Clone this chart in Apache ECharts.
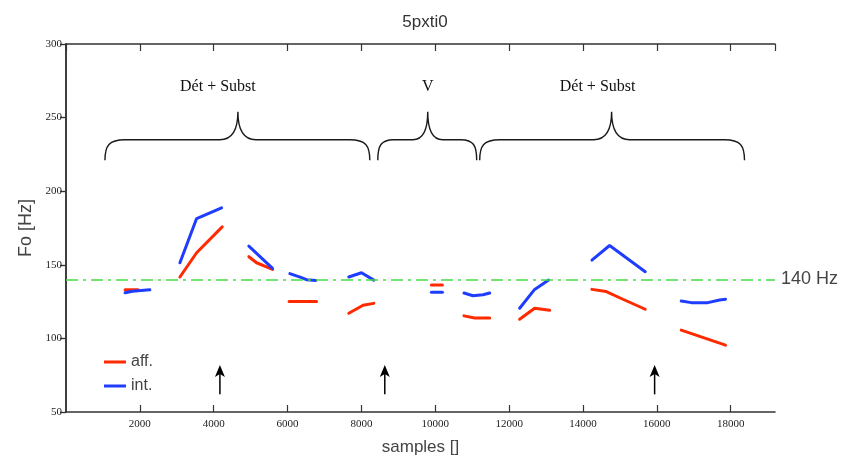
<!DOCTYPE html>
<html>
<head>
<meta charset="utf-8">
<script src="https://cdn.jsdelivr.net/npm/echarts@6/dist/echarts.min.js"></script>
<style>html,body{margin:0;padding:0;background:#fff}#c{width:843px;height:461px}</style>
</head>
<body>
<div id="c"></div>
<script>
// ---- data ----
const xTicks = [2000, 4000, 6000, 8000, 10000, 12000, 14000, 16000, 18000];
const yTicks = [50, 100, 150, 200, 250, 300];
const refHz = 140;
const refLabel = '140 Hz';

const affSegments = [
  [[1600,133],[1950,133]],
  [[3085,141.7],[3537,158.2],[4230,175.8]],
  [[4952,155.5],[5160,151.4],[5593,146.9]],
  [[6043,125],[6784,125]],
  [[7658,117.1],[8045,122.5],[8335,123.8]],
  [[9895,136.2],[10193,136.2]],
  [[10778,115.3],[11067,113.9],[11474,113.9]],
  [[12285,113],[12691,120.5],[13097,119.1]],
  [[14242,133.3],[14631,131.8],[15081,126.6],[15686,119.8]],
  [[16661,105.6],[17860,95.4]]
];
const intSegments = [
  [[1600,131],[1800,132],[2270,133]],
  [[3085,151.4],[3537,181.4],[4213,188.7]],
  [[4952,162.7],[5593,147.6]],
  [[6062,144],[6378,141.3],[6513,139.9],[6765,139.4]],
  [[7658,141.7],[8002,144.6],[8335,139.6]],
  [[9895,131.3],[10193,131.3]],
  [[10778,130.8],[11021,129],[11292,129.7],[11474,130.8]],
  [[12285,120.5],[12691,133.3],[13070,139.6]],
  [[14242,153.2],[14721,163.1],[15686,145.3]],
  [[16661,125.4],[16932,124.3],[17383,124.3],[17699,126.1],[17860,126.6]]
];

const braceStart = [1055, 8443, 11203];
const braceMid   = [4655, 9796, 14775];
const braceEnd   = [8227, 11122, 18374];
const braceLabels = ['Dét + Subst', 'V', 'Dét + Subst'];
const braceLabelX = [4113, 9796, 14396];
const braceBaseHz = 221, braceFlatHz = 235, braceTipHz = 254, braceLabelHz = 271;

const arrowX = [4168, 8633, 15940];
const arrowBaseHz = 62, arrowTipHz = 82;

// ---- chart ----
const RED = '#ff2a00', BLUE = '#1f3dff', GREEN = '#44dd44';
const SANS = "'Liberation Sans Narrow','Liberation Sans',Arial,sans-serif";
const SERIF = "'Liberation Serif','Times New Roman',serif";
const LINE_ICON = 'path://M0,0L22,0L22,3L0,3Z';

const series = [];
affSegments.forEach(seg => series.push({
  type: 'line', name: 'aff.', data: seg, symbol: 'none', showSymbol: false,
  lineStyle: {color: RED, width: 3, cap: 'round'}, itemStyle: {color: RED}, animation: false, z: 3
}));
intSegments.forEach(seg => series.push({
  type: 'line', name: 'int.', data: seg, symbol: 'none', showSymbol: false,
  lineStyle: {color: BLUE, width: 3, cap: 'round'}, itemStyle: {color: BLUE}, animation: false, z: 3
}));

// reference line
series.push({
  type: 'line', name: 'ref', data: [], symbol: 'none', animation: false,
  markLine: {
    silent: true, symbol: 'none', animation: false,
    lineStyle: {color: GREEN, width: 1.5, type: [12, 5, 3, 5]},
    label: {show: true, position: 'end', formatter: refLabel, distance: 6,
            fontFamily: SANS, fontSize: 18, color: '#444'},
    data: [{yAxis: refHz}]
  },
  z: 2
});

// braces
series.push({
  type: 'custom', name: 'braces', coordinateSystem: 'cartesian2d', clip: false, silent: true,
  animation: false,
  data: braceStart.map((s, i) => [s, braceMid[i], braceEnd[i], braceLabelX[i], i]),
  encode: {x: [0, 1, 2, 3]},
  renderItem: function (params, api) {
    const i = api.value(4);
    const x0 = api.coord([api.value(0), braceBaseHz]);
    const xm = api.coord([api.value(1), braceTipHz]);
    const x1 = api.coord([api.value(2), braceBaseHz]);
    const yf = api.coord([0, braceFlatHz])[1];
    const lp = api.coord([api.value(3), braceLabelHz]);
    const w = x1[0] - x0[0];
    const r = Math.min(20, w * 0.16);
    const r2 = Math.min(18, w * 0.15);
    const d = 'M' + x0[0] + ' ' + x0[1] +
      ' C' + x0[0] + ' ' + (yf + 6) + ' ' + (x0[0] + r * 0.2) + ' ' + yf + ' ' + (x0[0] + r) + ' ' + yf +
      ' L' + (xm[0] - r2) + ' ' + yf +
      ' Q' + xm[0] + ' ' + yf + ' ' + xm[0] + ' ' + xm[1] +
      ' Q' + xm[0] + ' ' + yf + ' ' + (xm[0] + r2) + ' ' + yf +
      ' L' + (x1[0] - r) + ' ' + yf +
      ' C' + (x1[0] - r * 0.2) + ' ' + yf + ' ' + x1[0] + ' ' + (yf + 6) + ' ' + x1[0] + ' ' + x1[1];
    return {
      type: 'group',
      children: [
        {type: 'path', shape: {pathData: d}, style: {fill: null, stroke: '#1a1a1a', lineWidth: 1.4}},
        {type: 'text', x: lp[0], y: lp[1],
         style: {text: braceLabels[i], font: '16px ' + SERIF, fill: '#111', align: 'center', verticalAlign: 'middle'}}
      ]
    };
  },
  z: 4
});

// arrows
series.push({
  type: 'custom', name: 'arrows', coordinateSystem: 'cartesian2d', clip: false, silent: true,
  animation: false,
  data: arrowX.map(x => [x]),
  encode: {x: 0},
  renderItem: function (params, api) {
    const b = api.coord([api.value(0), arrowBaseHz]);
    const t = api.coord([api.value(0), arrowTipHz]);
    const hl = 12, hw = 5;
    return {
      type: 'group',
      children: [
        {type: 'line', shape: {x1: b[0], y1: b[1], x2: t[0], y2: t[1] + 4}, style: {stroke: '#000', lineWidth: 1.5}},
        {type: 'polygon', shape: {points: [[t[0], t[1]], [t[0] - hw, t[1] + hl], [t[0], t[1] + hl - 3], [t[0] + hw, t[1] + hl]]},
         style: {fill: '#000'}}
      ]
    };
  },
  z: 4
});

const axisLine = {show: true, lineStyle: {color: '#333', width: 1.5}};
const tickLabelStyle = {fontFamily: SERIF, fontSize: 11, color: '#222'};

const option = {
  backgroundColor: '#fff',
  animation: false,
  title: {text: '5pxti0', left: 420, textAlign: 'center', top: 9,
          textStyle: {fontFamily: SANS, fontSize: 17, fontWeight: 'normal', color: '#333'}},
  legend: {
    data: [{name: 'aff.', icon: LINE_ICON}, {name: 'int.', icon: LINE_ICON}],
    orient: 'vertical', left: 99, top: 349,
    itemWidth: 22, itemHeight: 14, itemGap: 8, selectedMode: false,
    textStyle: {fontFamily: SANS, fontSize: 16, color: '#444', lineHeight: 14}
  },
  grid: {left: 66, right: 68, top: 44, bottom: 48, containLabel: false},
  xAxis: [{
    type: 'value', min: 0, max: 19200, interval: 2000, position: 'bottom',
    axisLine: axisLine,
    axisTick: {show: true, inside: true, length: 7, lineStyle: {color: '#333', width: 1.2}},
    axisLabel: Object.assign({margin: 7, showMinLabel: false, showMaxLabel: false,
      formatter: v => (xTicks.indexOf(v) >= 0 ? String(v) : '')}, tickLabelStyle),
    splitLine: {show: false},
    name: 'samples []', nameLocation: 'middle', nameGap: 27,
    nameTextStyle: {fontFamily: SANS, fontSize: 17, color: '#444'}
  }, {
    type: 'value', min: 0, max: 19200, interval: 2000, position: 'top',
    axisLine: axisLine,
    axisTick: {show: true, inside: true, length: 7, lineStyle: {color: '#333', width: 1.2}},
    axisLabel: {show: false}, splitLine: {show: false}
  }],
  yAxis: [{
    type: 'value', min: 50, max: 300, interval: 50, position: 'left',
    axisLine: axisLine,
    axisTick: {show: true, inside: false, length: 6, lineStyle: {color: '#333', width: 1.2}},
    axisLabel: Object.assign({margin: 4, formatter: v => (yTicks.indexOf(v) >= 0 ? String(v) : '')}, tickLabelStyle),
    splitLine: {show: false},
    name: 'Fo [Hz]', nameLocation: 'middle', nameGap: 27, nameRotate: 90,
    nameTextStyle: {fontFamily: SANS, fontSize: 18, color: '#444'}
  }, {
    type: 'value', min: 50, max: 300, interval: 50, position: 'right',
    axisLine: axisLine,
    axisTick: {show: true, inside: true, length: 6, lineStyle: {color: '#333', width: 1.2}},
    axisLabel: {show: false}, splitLine: {show: false}
  }],
  series: series
};

const chart = echarts.init(document.getElementById('c'), null, {renderer: 'canvas'});
chart.setOption(option);
</script>
</body>
</html>
